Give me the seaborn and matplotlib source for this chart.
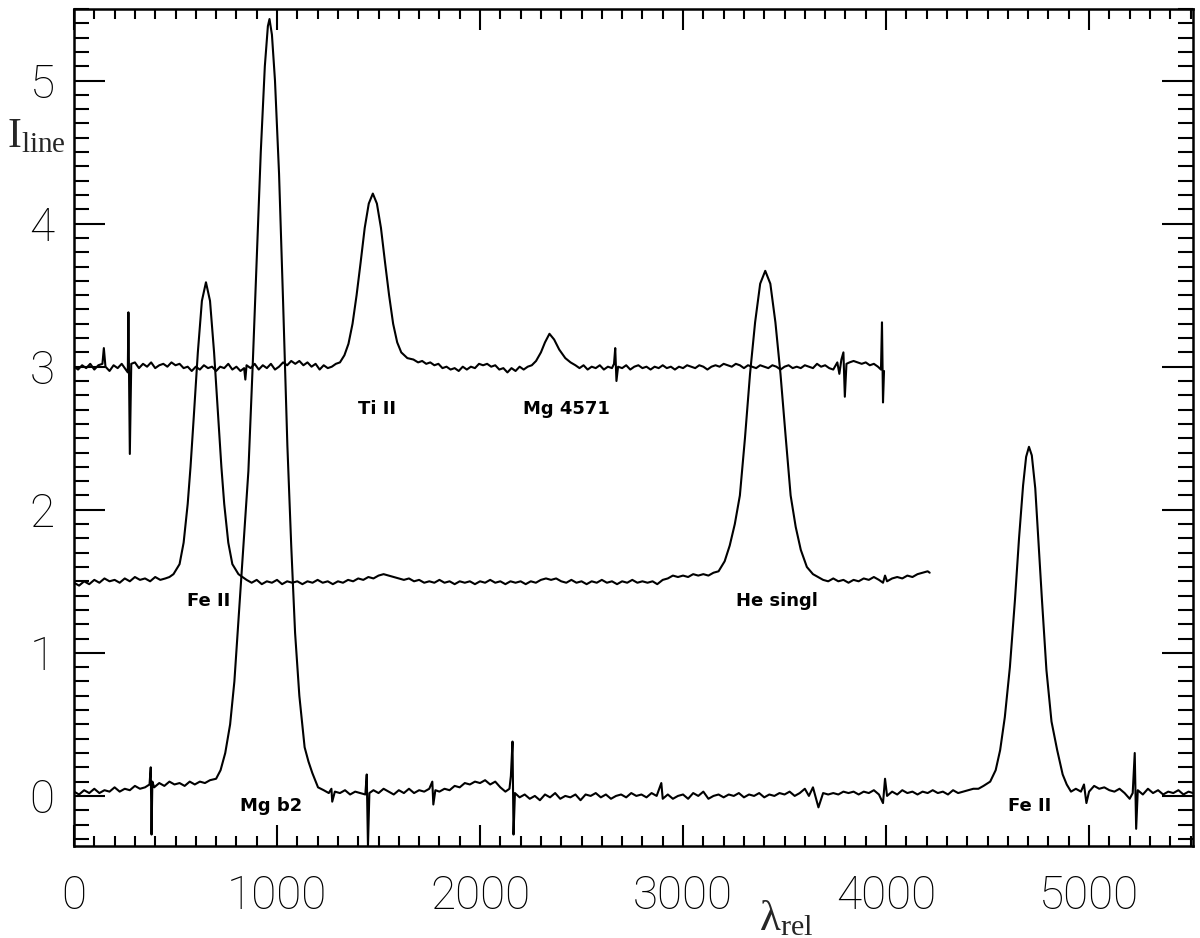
import numpy as np
import pandas as pd
import matplotlib
matplotlib.use("Agg")
import matplotlib.pyplot as plt
import seaborn as sns
from matplotlib.ticker import MultipleLocator

################################
# data:
################################

# bottom spectrum: Mg b2 and Fe II
bottom_x = [0, 25, 50, 75, 100, 125, 150, 175, 200, 225, 250, 275, 300, 325, 350, 372, 378, 382, 386, 395,
            420, 445, 470, 495, 520, 545, 570, 595, 620, 645, 670, 700,
            722, 745, 769, 790, 806, 830, 859, 880, 900, 920, 940, 955, 963, 975, 990, 1010, 1030, 1051,
            1070, 1089, 1110, 1136, 1155, 1174, 1202, 1230,
            1255, 1268, 1272, 1285, 1310, 1335, 1360, 1385, 1410, 1435, 1442, 1448, 1455, 1475, 1500, 1525,
            1550, 1575, 1600, 1625, 1650, 1675, 1700, 1725, 1750, 1765, 1770, 1780, 1800, 1825, 1850, 1875,
            1900, 1925, 1950, 1975, 2000, 2025, 2050, 2075, 2100, 2125, 2145, 2152, 2160, 2165, 2172, 2195,
            2220, 2245, 2270, 2295, 2320, 2345, 2370, 2395, 2420, 2445, 2470, 2495, 2520, 2545, 2570, 2595,
            2620, 2645, 2670, 2695, 2720, 2745, 2770, 2795, 2820, 2845, 2870, 2893, 2900, 2925, 2950, 2975,
            3000, 3025, 3050, 3075, 3100, 3125, 3150, 3175, 3200, 3225, 3250, 3275, 3300, 3325, 3350, 3375,
            3400, 3425, 3450, 3475, 3500, 3525, 3550, 3575, 3600, 3620, 3640, 3667, 3690, 3715, 3740, 3765,
            3790, 3815, 3840, 3865, 3890, 3915, 3940, 3965, 3985, 3995, 4005, 4030, 4055, 4080, 4105, 4130,
            4155, 4180, 4205, 4230, 4255, 4280, 4305, 4330, 4355, 4380, 4405, 4430, 4455, 4480,
            4513, 4540, 4562, 4585, 4610, 4635, 4655, 4675, 4690, 4704, 4718, 4735, 4750, 4768, 4790, 4815,
            4843, 4870, 4890, 4911,
            4935, 4960, 4975, 4987, 5000, 5025, 5050, 5075, 5100, 5125, 5150, 5175, 5200, 5215, 5225, 5232,
            5240, 5265, 5290, 5315, 5340, 5365, 5390, 5415, 5440, 5465, 5490, 5512]
bottom_y = [0.03, 0.01, 0.04, 0.02, 0.05, 0.02, 0.04, 0.03, 0.06, 0.03, 0.05, 0.04, 0.07, 0.05, 0.06, 0.08, 0.20, -0.27, 0.10, 0.06,
            0.09, 0.07, 0.10, 0.08, 0.09, 0.07, 0.10, 0.08, 0.10, 0.09, 0.11, 0.12,
            0.18, 0.30, 0.50, 0.80, 1.14, 1.65, 2.27, 3.00, 3.75, 4.50, 5.10, 5.38, 5.43, 5.32, 5.00, 4.35, 3.45, 2.45,
            1.75, 1.14, 0.70, 0.34, 0.24, 0.16, 0.06, 0.04,
            0.02, 0.05, -0.04, 0.03, 0.02, 0.04, 0.01, 0.03, 0.02, 0.01, 0.15, -0.35, 0.02, 0.04, 0.02, 0.05,
            0.03, 0.01, 0.04, 0.02, 0.05, 0.02, 0.04, 0.03, 0.05, 0.10, -0.06, 0.04, 0.03, 0.05, 0.04, 0.07,
            0.06, 0.09, 0.08, 0.10, 0.09, 0.11, 0.08, 0.10, 0.06, 0.03, 0.05, 0.14, 0.38, -0.27, 0.02, -0.01,
            0.01, -0.02, 0.00, -0.03, 0.01, -0.01, 0.02, -0.02, 0.00, -0.01, 0.01, -0.03, 0.01, 0.00, 0.02, -0.01,
            0.01, -0.02, 0.00, 0.01, -0.01, 0.02, 0.00, 0.01, -0.01, 0.02, 0.00, 0.09, -0.02, 0.01, -0.02, 0.00,
            0.01, -0.02, 0.02, 0.00, 0.03, -0.02, 0.00, 0.01, -0.01, 0.01, 0.00, 0.02, -0.01, 0.01, 0.00, 0.02,
            -0.01, 0.01, 0.00, 0.02, 0.01, 0.03, 0.00, 0.02, 0.05, 0.00, 0.06, -0.08, 0.02, 0.01, 0.02, 0.01,
            0.03, 0.02, 0.03, 0.01, 0.03, 0.02, 0.04, 0.01, -0.05, 0.12, 0.00, 0.03, 0.01, 0.04, 0.02, 0.03,
            0.01, 0.03, 0.02, 0.04, 0.02, 0.03, 0.01, 0.04, 0.02, 0.03, 0.04, 0.05, 0.05, 0.07,
            0.10, 0.18, 0.32, 0.55, 0.90, 1.37, 1.80, 2.17, 2.37, 2.44, 2.38, 2.15, 1.80, 1.37, 0.88, 0.52,
            0.32, 0.15, 0.08, 0.03,
            0.05, 0.03, 0.08, -0.05, 0.03, 0.07, 0.05, 0.06, 0.04, 0.03, 0.05, 0.02, -0.02, 0.02, 0.30, -0.23,
            0.04, 0.01, 0.05, 0.02, 0.04, 0.01, 0.03, 0.02, 0.04, 0.01, 0.03, 0.02]

# middle spectrum: Fe II and He singlet
middle_x = [0, 25, 50, 75, 100, 125, 150, 175, 200, 225, 250, 275, 300, 325, 350, 375, 400, 425, 450, 470,
            490, 520, 540, 560, 574, 590, 610, 630, 650, 670, 690, 710, 726, 740, 760, 780, 810, 850,
            875, 900, 925, 950, 975, 1000, 1025, 1050, 1075, 1100, 1125, 1150, 1175, 1200, 1225, 1250,
            1275, 1300, 1325, 1350, 1375, 1400, 1425, 1450, 1475, 1500, 1525, 1550, 1575, 1600, 1625, 1650,
            1675, 1700, 1725, 1750, 1775, 1800, 1825, 1850, 1875, 1900, 1925, 1950, 1975, 2000, 2025, 2050,
            2075, 2100, 2125, 2150, 2175, 2200, 2225, 2250, 2275, 2300, 2325, 2350, 2375, 2400, 2425, 2450,
            2475, 2500, 2525, 2550, 2575, 2600, 2625, 2650, 2675, 2700, 2725, 2750, 2775, 2800, 2825, 2850,
            2873, 2900, 2925, 2950, 2975, 3000, 3025, 3050, 3075, 3100, 3125, 3150,
            3175, 3205, 3230, 3255, 3280, 3305, 3330, 3355, 3380, 3405, 3430, 3455, 3480, 3505, 3530, 3555,
            3580, 3610, 3640, 3665,
            3690, 3715, 3740, 3765, 3790, 3815, 3840, 3865, 3890, 3915, 3940, 3965, 3985, 3995, 4005, 4030,
            4055, 4080, 4105, 4130, 4155, 4180, 4205, 4215]
middle_y = [1.49, 1.47, 1.50, 1.48, 1.51, 1.49, 1.52, 1.50, 1.51, 1.49, 1.52, 1.50, 1.53, 1.51, 1.52, 1.50, 1.53, 1.51, 1.52, 1.53,
            1.55, 1.62, 1.77, 2.04, 2.30, 2.65, 3.10, 3.46, 3.59, 3.46, 3.10, 2.65, 2.30, 2.04, 1.77, 1.62, 1.55, 1.51,
            1.49, 1.51, 1.48, 1.50, 1.49, 1.51, 1.48, 1.50, 1.49, 1.50, 1.48, 1.50, 1.49, 1.51, 1.49, 1.50,
            1.48, 1.50, 1.49, 1.51, 1.50, 1.52, 1.51, 1.53, 1.52, 1.54, 1.55, 1.54, 1.53, 1.52, 1.51, 1.52,
            1.50, 1.51, 1.49, 1.50, 1.49, 1.51, 1.49, 1.50, 1.48, 1.50, 1.49, 1.50, 1.48, 1.50, 1.49, 1.51,
            1.49, 1.50, 1.48, 1.50, 1.49, 1.50, 1.48, 1.50, 1.49, 1.51, 1.52, 1.51, 1.52, 1.50, 1.49, 1.51,
            1.49, 1.50, 1.48, 1.50, 1.49, 1.51, 1.49, 1.50, 1.48, 1.50, 1.49, 1.51, 1.49, 1.50, 1.49, 1.50,
            1.48, 1.51, 1.52, 1.54, 1.53, 1.54, 1.53, 1.55, 1.54, 1.55, 1.54, 1.56,
            1.57, 1.64, 1.75, 1.90, 2.10, 2.50, 2.95, 3.31, 3.58, 3.67, 3.58, 3.31, 2.95, 2.52, 2.10, 1.88,
            1.72, 1.60, 1.55, 1.53,
            1.51, 1.50, 1.52, 1.50, 1.51, 1.49, 1.51, 1.50, 1.52, 1.51, 1.53, 1.51, 1.49, 1.54, 1.50, 1.52,
            1.53, 1.52, 1.54, 1.53, 1.55, 1.56, 1.57, 1.56]

# top spectrum: Ti II and Mg 4571
top_x = [0, 20, 40, 60, 80, 100, 120, 140, 147, 155, 175, 195, 215, 235, 255, 265, 268, 275, 282, 300,
         320, 340, 360, 380, 400, 420, 440, 460, 480, 500, 520, 540, 560, 580, 600, 620, 640, 660, 680, 700,
         720, 740, 760, 780, 800, 820, 838, 844, 850, 870, 890, 910, 930, 950, 970, 990, 1010, 1030, 1050,
         1070, 1090, 1110, 1130, 1150, 1170, 1190, 1210, 1230, 1250, 1270, 1290, 1310,
         1332, 1352, 1372, 1392, 1412, 1432, 1452, 1472, 1492, 1512, 1532, 1552, 1572, 1592, 1612, 1642, 1672,
         1695, 1715, 1735, 1755, 1775, 1795, 1815, 1835, 1855, 1875, 1895, 1915, 1935, 1955, 1975, 1995,
         2015, 2035, 2055, 2075, 2095, 2115, 2135, 2155, 2175, 2195, 2215, 2235, 2255,
         2276, 2300, 2320, 2342, 2365, 2390, 2420, 2446,
         2470, 2490, 2510, 2530, 2550, 2570, 2590, 2610, 2630, 2650, 2660, 2666, 2672, 2680, 2700, 2720,
         2740, 2760, 2780, 2800, 2820, 2840, 2860, 2880, 2900, 2920, 2940, 2960, 2980, 3000, 3020, 3040,
         3060, 3080, 3100, 3120, 3140, 3160, 3180, 3200, 3220, 3240, 3260, 3280, 3300, 3320, 3340, 3360,
         3380, 3400, 3420, 3440, 3460, 3480, 3500, 3520, 3540, 3560, 3580, 3600, 3620, 3640, 3660, 3680,
         3700, 3720, 3740, 3760, 3770, 3780, 3790, 3797, 3805, 3820, 3840, 3860, 3880, 3900, 3920, 3940,
         3960, 3975, 3980, 3985, 3990]
top_y = [3.00, 2.98, 3.01, 2.99, 3.02, 2.98, 3.01, 3.02, 3.13, 3.00, 2.97, 3.01, 2.99, 3.02, 2.98, 2.96, 3.38, 2.39, 3.02, 3.03,
         2.99, 3.02, 3.00, 3.03, 2.99, 3.01, 3.02, 3.00, 3.03, 3.01, 3.02, 2.99, 3.00, 2.97, 3.00, 2.98, 3.01, 2.99, 3.00, 2.97,
         3.00, 2.99, 3.02, 2.98, 3.00, 2.97, 2.99, 2.91, 3.01, 2.99, 3.02, 2.98, 3.01, 2.99, 3.02, 2.98, 3.00, 3.03, 3.01,
         3.04, 3.02, 3.04, 3.01, 3.03, 3.00, 3.02, 2.98, 3.01, 2.99, 3.00, 3.02, 3.03,
         3.08, 3.16, 3.30, 3.50, 3.73, 3.97, 4.14, 4.21, 4.14, 3.97, 3.73, 3.50, 3.30, 3.17, 3.10, 3.06, 3.05,
         3.03, 3.04, 3.02, 3.03, 3.01, 3.02, 2.99, 3.00, 2.98, 2.99, 2.97, 3.00, 2.98, 3.00, 2.99, 3.02,
         3.01, 3.02, 3.00, 3.01, 2.98, 2.99, 2.96, 2.99, 2.97, 3.00, 2.98, 3.00, 3.01,
         3.04, 3.10, 3.17, 3.23, 3.19, 3.12, 3.06, 3.03,
         3.01, 2.99, 3.01, 2.98, 3.00, 2.99, 3.01, 2.98, 3.00, 2.99, 3.02, 3.13, 2.90, 3.00, 2.99, 3.01,
         2.98, 3.00, 3.01, 2.99, 3.00, 2.98, 3.00, 2.99, 3.01, 2.99, 3.00, 2.98, 3.00, 2.99, 3.01, 3.00,
         2.99, 3.01, 3.00, 2.98, 3.00, 3.01, 3.00, 3.02, 3.01, 3.00, 3.02, 3.01, 2.99, 3.01, 3.00, 2.99,
         3.01, 3.00, 2.99, 3.01, 3.00, 2.98, 3.00, 3.01, 2.99, 3.00, 2.99, 3.01, 3.00, 2.99, 3.02, 3.00,
         3.01, 2.99, 2.98, 3.03, 2.95, 3.05, 3.10, 2.79, 3.02, 3.03, 3.04, 3.03, 3.02, 3.03, 3.01, 3.02,
         3.00, 2.98, 3.31, 2.75, 2.97]

# line labels: text, x, baseline y
label_text = ["Ti II", "Mg 4571", "Fe II", "He singl", "Mg b2", "Fe II"]
label_x = [1494, 2425, 665, 3464, 970, 4709]
label_y = [2.67, 2.67, 1.33, 1.33, -0.105, -0.105]

################################
# plot:
################################

sns.set_style("ticks")
plt.rcParams["font.family"] = ["Roboto", "DejaVu Sans"]
plt.rcParams["mathtext.fontset"] = "custom"
plt.rcParams["mathtext.rm"] = "Liberation Serif"
plt.rcParams["mathtext.it"] = "Liberation Serif:italic"

fig = plt.figure(figsize=(12, 9.38), dpi=100)
ax = fig.add_axes([74 / 1200, 1 - 846 / 938, (1193 - 74) / 1200, (846 - 9) / 938])

for xs, ys in [(bottom_x, bottom_y), (middle_x, middle_y), (top_x, top_y)]:
    df = pd.DataFrame({"lam": xs, "I": ys})
    sns.lineplot(data=df, x="lam", y="I", ax=ax, color="black", lw=1.5,
                 estimator=None, sort=False, legend=False)

for t, x, y in zip(label_text, label_x, label_y):
    ax.text(x, y, t, ha="center", va="baseline", fontsize=13, fontweight="bold",
            family="DejaVu Sans", color="black")

ax.set_xlim(0, 5512)
ax.set_ylim(-0.35, 5.5)
ax.xaxis.set_major_locator(MultipleLocator(1000))
ax.xaxis.set_minor_locator(MultipleLocator(100))
ax.yaxis.set_major_locator(MultipleLocator(1))
ax.yaxis.set_minor_locator(MultipleLocator(0.1))

ax.tick_params(axis="both", which="both", direction="in", top=True, right=True, width=1.5, colors="black")
ax.tick_params(axis="x", which="major", length=15, labelsize=33, pad=20)
ax.tick_params(axis="x", which="minor", length=7.5)
ax.tick_params(axis="y", which="major", length=22, labelsize=33, pad=14)
ax.tick_params(axis="y", which="minor", length=11)
for lab in ax.get_xticklabels() + ax.get_yticklabels():
    lab.set_fontweight("light")

for s in ax.spines.values():
    s.set_linewidth(1.8)
    s.set_color("black")

ax.set_xlabel("")
ax.set_ylabel("")
fig.text(7 / 1200, 1 - 147 / 938, r"$\mathrm{I}_{\mathrm{line}}$", fontsize=30, ha="left", va="baseline")
fig.text(759 / 1200, 1 - 930 / 938, r"$\mathrm{λ}_{\mathrm{rel}}$", fontsize=31, ha="left", va="baseline")

fig.savefig("out.png", dpi=100, facecolor="white")
